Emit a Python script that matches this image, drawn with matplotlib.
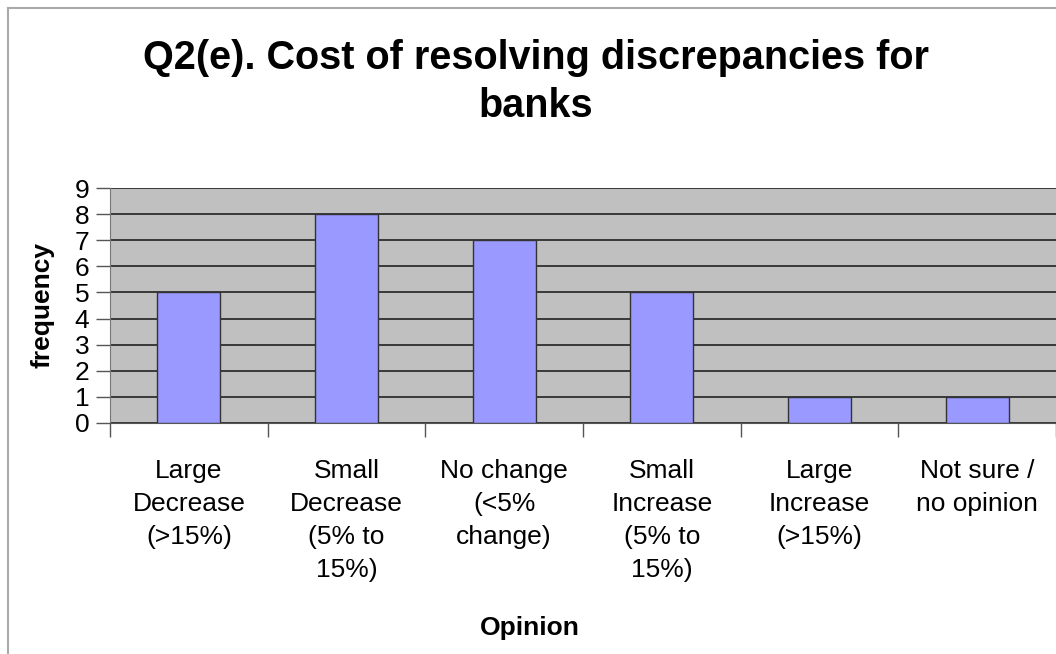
import matplotlib.pyplot as plt
from matplotlib.lines import Line2D

plt.rcParams['font.family'] = ['Liberation Sans', 'DejaVu Sans']

categories = ['Large\nDecrease\n(>15%)', 'Small\nDecrease\n(5% to\n15%)',
              'No change\n(<5%\nchange)', 'Small\nIncrease\n(5% to\n15%)',
              'Large\nIncrease\n(>15%)', 'Not sure /\nno opinion']
freq = [5, 8, 7, 5, 1, 1]
yticks = list(range(0, 10))

fig = plt.figure(figsize=(10.56, 6.54), dpi=100)
ax = fig.add_axes([110/1056, 1-423/654, 1-110/1056, (423-188)/654])

x = range(len(freq))
ax.bar(x, freq, width=0.4, color='#9999ff', edgecolor='#333333', linewidth=1, zorder=3)

ax.set_facecolor('#c0c0c0')
ax.set_xlim(-0.5, len(freq) - 0.5)
ax.set_ylim(0, 9)
ax.set_yticks(yticks)
ax.tick_params(axis='y', labelsize=19, length=10, width=1, color='#555555', pad=5)
ax.grid(axis='y', color='#222222', linewidth=1.2, zorder=1)
ax.set_axisbelow(True)

# category boundaries as tick marks, labels at centers
ax.set_xticks([i - 0.5 for i in range(len(freq) + 1)])
ax.set_xticklabels([])
ax.set_xticks(list(x), minor=True)
ax.set_xticklabels(categories, minor=True, fontsize=19, linespacing=1.47, va='top')
ax.tick_params(axis='x', which='major', length=10, width=1, color='#555555')
ax.tick_params(axis='x', which='minor', length=0, pad=26)

for s in ['top', 'right']:
    ax.spines[s].set_visible(False)
ax.spines['left'].set_color('#777777')
ax.spines['bottom'].set_color('#555555')

ax.set_ylabel('frequency', fontsize=19, fontweight='bold', labelpad=14)
fig.text(530/1056, 1-628/654, 'Opinion', fontsize=19, fontweight='bold', ha='center', va='center')

fig.text(536/1056, 1-82/654, 'Q2(e). Cost of resolving discrepancies for\nbanks',
         fontsize=28.5, fontweight='bold', ha='center', va='center', linespacing=1.32)

# outer chart border (top and left visible)
fig.add_artist(Line2D([8/1056, 1], [1-8/654, 1-8/654], color='#aaaaaa', lw=1.5, transform=fig.transFigure))
fig.add_artist(Line2D([8/1056, 8/1056], [0, 1-8/654], color='#aaaaaa', lw=1.5, transform=fig.transFigure))

fig.savefig('out.png', dpi=100)
